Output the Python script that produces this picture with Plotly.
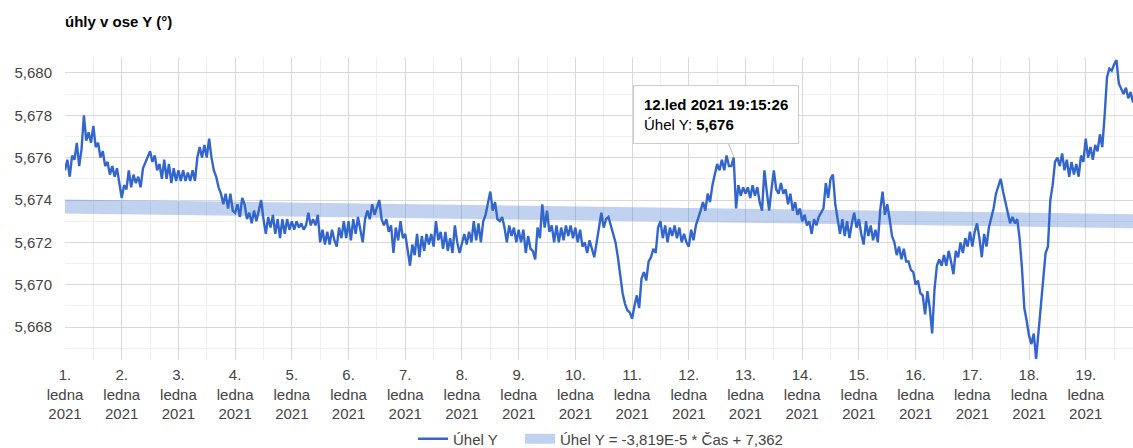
import pandas as pd
import plotly.graph_objects as go

# ---------------- data (hourly samples) ----------------
start_time = "2021-01-01 00:00"
day01 = [5.6754, 5.6759, 5.6751, 5.6761, 5.6759, 5.6767, 5.6756, 5.6764, 5.6780, 5.6768, 5.6772, 5.6767,
         5.6775, 5.6765, 5.6767, 5.6760, 5.6763, 5.6756, 5.6758, 5.6752, 5.6756, 5.6751, 5.6755, 5.6747]
day02 = [5.6741, 5.6747, 5.6745, 5.6754, 5.6746, 5.6752, 5.6748, 5.6751, 5.6746, 5.6755, 5.6758, 5.6761,
         5.6763, 5.6758, 5.6761, 5.6754, 5.6757, 5.6750, 5.6759, 5.6750, 5.6757, 5.6748, 5.6755, 5.6749]
day03 = [5.6754, 5.6749, 5.6754, 5.6749, 5.6753, 5.6749, 5.6754, 5.6749, 5.6760, 5.6765, 5.6760, 5.6766,
         5.6760, 5.6769, 5.6760, 5.6754, 5.6751, 5.6746, 5.6743, 5.6738, 5.6743, 5.6736, 5.6743, 5.6735]
day04 = [5.6734, 5.6738, 5.6732, 5.6741, 5.6738, 5.6731, 5.6734, 5.6729, 5.6735, 5.6730, 5.6735, 5.6740,
         5.6731, 5.6724, 5.6732, 5.6727, 5.6733, 5.6724, 5.6731, 5.6722, 5.6731, 5.6724, 5.6731, 5.6726]
day05 = [5.6730, 5.6726, 5.6730, 5.6727, 5.6729, 5.6726, 5.6728, 5.6734, 5.6728, 5.6731, 5.6728, 5.6733,
         5.6720, 5.6726, 5.6719, 5.6725, 5.6719, 5.6726, 5.6721, 5.6718, 5.6727, 5.6722, 5.6730, 5.6722]
day06 = [5.6730, 5.6721, 5.6731, 5.6724, 5.6732, 5.6725, 5.6720, 5.6731, 5.6735, 5.6731, 5.6738, 5.6733,
         5.6736, 5.6740, 5.6731, 5.6728, 5.6731, 5.6725, 5.6728, 5.6715, 5.6727, 5.6721, 5.6730, 5.6722]
day07 = [5.6724, 5.6716, 5.6709, 5.6719, 5.6714, 5.6724, 5.6713, 5.6723, 5.6716, 5.6724, 5.6719, 5.6724,
         5.6718, 5.6730, 5.6721, 5.6725, 5.6717, 5.6725, 5.6716, 5.6722, 5.6715, 5.6728, 5.6720, 5.6715]
day08 = [5.6720, 5.6724, 5.6719, 5.6725, 5.6720, 5.6730, 5.6721, 5.6729, 5.6720, 5.6730, 5.6733, 5.6739,
         5.6744, 5.6735, 5.6739, 5.6731, 5.6730, 5.6732, 5.6727, 5.6720, 5.6728, 5.6723, 5.6727, 5.6720]
day09 = [5.6726, 5.6720, 5.6726, 5.6715, 5.6723, 5.6717, 5.6716, 5.6712, 5.6727, 5.6722, 5.6738, 5.6727,
         5.6735, 5.6725, 5.6728, 5.6720, 5.6728, 5.6720, 5.6727, 5.6721, 5.6728, 5.6723, 5.6728, 5.6722]
day10 = [5.6727, 5.6720, 5.6726, 5.6718, 5.6720, 5.6715, 5.6721, 5.6717, 5.6713, 5.6720, 5.6727, 5.6734,
         5.6727, 5.6731, 5.6732, 5.6728, 5.6725, 5.6720, 5.6713, 5.6703, 5.6696, 5.6691, 5.6688, 5.6687]
day11 = [5.6684, 5.6690, 5.6695, 5.6689, 5.6703, 5.6706, 5.6702, 5.6711, 5.6713, 5.6717, 5.6715, 5.6727,
         5.6730, 5.6722, 5.6728, 5.6720, 5.6727, 5.6723, 5.6728, 5.6722, 5.6727, 5.6720, 5.6724, 5.6720]
day12 = [5.6718, 5.6726, 5.6721, 5.6728, 5.6731, 5.6735, 5.6739, 5.6735, 5.6743, 5.6739, 5.6747, 5.6752,
         5.6757, 5.6754, 5.6759, 5.6754, 5.6761, 5.6756, 5.6756, 5.6760, 5.6736, 5.6747, 5.6742, 5.6746]
day13 = [5.6743, 5.6746, 5.6741, 5.6747, 5.6742, 5.6746, 5.6739, 5.6735, 5.6754, 5.6744, 5.6735, 5.6745,
         5.6754, 5.6745, 5.6743, 5.6748, 5.6743, 5.6745, 5.6738, 5.6743, 5.6735, 5.6739, 5.6733, 5.6736]
day14 = [5.6730, 5.6733, 5.6728, 5.6730, 5.6724, 5.6731, 5.6728, 5.6732, 5.6734, 5.6736, 5.6748, 5.6741,
         5.6750, 5.6752, 5.6738, 5.6730, 5.6724, 5.6731, 5.6723, 5.6730, 5.6722, 5.6729, 5.6734, 5.6727]
day15 = [5.6731, 5.6724, 5.6719, 5.6730, 5.6723, 5.6728, 5.6721, 5.6726, 5.6720, 5.6735, 5.6744, 5.6733,
         5.6738, 5.6731, 5.6723, 5.6720, 5.6714, 5.6718, 5.6712, 5.6717, 5.6711, 5.6711, 5.6707, 5.6706]
day16 = [5.6700, 5.6702, 5.6696, 5.6695, 5.6686, 5.6697, 5.6689, 5.6677, 5.6698, 5.6709, 5.6712, 5.6709,
         5.6714, 5.6709, 5.6716, 5.6711, 5.6705, 5.6716, 5.6713, 5.6720, 5.6715, 5.6722, 5.6718, 5.6725]
day17 = [5.6718, 5.6725, 5.6729, 5.6722, 5.6713, 5.6724, 5.6718, 5.6727, 5.6732, 5.6736, 5.6743, 5.6747,
         5.6750, 5.6744, 5.6739, 5.6733, 5.6729, 5.6732, 5.6729, 5.6731, 5.6722, 5.6708, 5.6689, 5.6683]
day18 = [5.6676, 5.6672, 5.6677, 5.6665, 5.6678, 5.6693, 5.6702, 5.6715, 5.6718, 5.6740, 5.6747, 5.6758,
         5.6760, 5.6756, 5.6762, 5.6754, 5.6759, 5.6751, 5.6758, 5.6752, 5.6757, 5.6751, 5.6761, 5.6758]
day19 = [5.6769, 5.6760, 5.6765, 5.6759, 5.6766, 5.6763, 5.6771, 5.6765, 5.6780, 5.6798, 5.6802, 5.6801,
         5.6804, 5.6806, 5.6795, 5.6792, 5.6790, 5.6793, 5.6788, 5.6791, 5.6786]

trend_values = [5.67370, 5.67300]          # trendline at first and last sample
series_name = "Úhel Y"
trend_name = "Úhel Y = -3,819E-5 * Čas + 7,362"
chart_title = "úhly v ose Y (°)"

tick_days = list(range(1, 20))
tick_labels = [f"{d}.<br>ledna<br>2021" for d in tick_days]

tooltip_time = "2021-01-12 19:15:26"
tooltip_value = 5.676
tooltip_title = "12.led 2021 19:15:26"

# ---------------- build ----------------
values = (day01 + day02 + day03 + day04 + day05 + day06 + day07 + day08 + day09 + day10 +
          day11 + day12 + day13 + day14 + day15 + day16 + day17 + day18 + day19)
times = pd.date_range(start_time, periods=len(values), freq="h")
tick_vals = [pd.Timestamp(2021, 1, d) for d in tick_days]

FONT = "Arial, 'Liberation Sans', sans-serif"
W, H = 1133, 448
ML, MT, MB = 65, 57, 88
PW, PH = W - ML, H - MT - MB

fig = go.Figure()
fig.add_trace(go.Scatter(
    x=[times[0], times[-1]], y=trend_values, mode="lines", name=trend_name,
    line=dict(color="rgba(51,102,204,0.3)", width=14), legend="legend2", hoverinfo="skip"))
fig.add_trace(go.Scatter(
    x=times, y=values, mode="lines", name=series_name,
    line=dict(color="#3366cc", width=2.4), legend="legend"))

fig.add_annotation(
    x=pd.Timestamp(tooltip_time), y=tooltip_value, xref="x", yref="y",
    text=f"<b>{tooltip_title}</b><br>{series_name}: <b>{str(tooltip_value).replace('.', ',')}</b>",
    align="left", showarrow=True, arrowhead=0, arrowwidth=1, arrowcolor="#bdbdbd",
    ax=-18, ay=-43, standoff=0, bgcolor="white", bordercolor="#cccccc", borderwidth=1,
    borderpad=10, font=dict(family=FONT, size=15, color="#000000"))

legend_common = dict(orientation="h", xanchor="left", yanchor="middle",
                     y=-(439 - (MT + PH)) / PH,
                     font=dict(family=FONT, size=15, color="#444444"),
                     bgcolor="rgba(0,0,0,0)")

fig.update_layout(
    width=W, height=H,
    margin=dict(l=ML, r=0, t=MT, b=MB, autoexpand=False),
    paper_bgcolor="white", plot_bgcolor="white",
    separators=", ",
    font=dict(family=FONT, size=15, color="#444444"),
    title=dict(text=chart_title, x=0, xref="paper", xanchor="left",
               y=1 - 22 / H, yref="container", yanchor="middle",
               font=dict(family=FONT, size=15, color="#000000", weight="bold")),
    showlegend=True,
    legend=dict(x=(413 - ML) / PW, **legend_common),
    legend2=dict(x=(520 - ML) / PW, **legend_common),
    xaxis=dict(
        type="date", range=[times[0], times[-1]],
        tickmode="array", tickvals=tick_vals, ticktext=tick_labels,
        showgrid=True, gridcolor="#d9d9d9", gridwidth=1,
        minor=dict(dtick=12 * 3600 * 1000, tick0="2021-01-01", showgrid=True,
                   gridcolor="#efefef"),
        zeroline=False, showline=False, ticks="", ticklabelstandoff=4,
        tickfont=dict(family=FONT, size=15, color="#444444")),
    yaxis=dict(
        range=[5.66645, 5.68075], tickmode="linear", tick0=5.668, dtick=0.002,
        tickformat=".3f", showgrid=True, gridcolor="#d9d9d9", gridwidth=1,
        minor=dict(dtick=0.001, tick0=5.667, showgrid=True, gridcolor="#efefef"),
        zeroline=False, showline=False, ticks="", ticklabelstandoff=12,
        tickfont=dict(family=FONT, size=15, color="#444444")),
)

fig.write_html(
    "out.html",
    config={"displayModeBar": False},
    post_script="document.body.style.margin='0';document.body.style.padding='0';"
                "document.body.style.overflow='hidden';",
)
